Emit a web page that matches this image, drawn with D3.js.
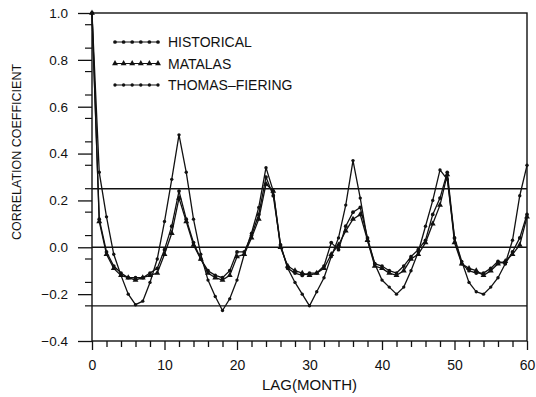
<!DOCTYPE html>
<html>
<head>
<meta charset="utf-8">
<script src="https://cdn.jsdelivr.net/npm/d3@7"></script>
<style>
  body { margin: 0; background: #fff; }
  text { font-family: "Liberation Sans", Arial, Helvetica, sans-serif; fill: #111; }
</style>
</head>
<body>
<svg id="chart" width="536" height="397"></svg>
<script>
// lag in months, 0..60
const lags = d3.range(0, 61);

const historical = [
  1.0, 0.12, -0.02, -0.08, -0.11, -0.13, -0.13, -0.13, -0.11, -0.09,
  -0.01, 0.09, 0.24, 0.12, 0.02, -0.05, -0.10, -0.12, -0.13, -0.10,
  -0.02, -0.02, 0.05, 0.14, 0.30, 0.22, 0.01, -0.09, -0.11, -0.12,
  -0.11, -0.11, -0.08, 0.02, -0.01, 0.09, 0.15, 0.17, 0.04, -0.07,
  -0.08, -0.10, -0.11, -0.08, -0.04, -0.01, 0.03, 0.14, 0.21, 0.32,
  0.04, -0.07, -0.10, -0.11, -0.11, -0.09, -0.06, -0.07, -0.02, 0.04,
  0.14
];

const matalas = [
  1.0, 0.11, -0.03, -0.09, -0.12, -0.13, -0.14, -0.13, -0.12, -0.11,
  -0.03, 0.06, 0.21, 0.11, 0.01, -0.05, -0.11, -0.13, -0.14, -0.12,
  -0.04, -0.03, 0.04, 0.12, 0.27, 0.24, 0.00, -0.08, -0.10, -0.11,
  -0.12, -0.11, -0.09, -0.03, 0.01, 0.07, 0.12, 0.14, 0.03, -0.08,
  -0.09, -0.11, -0.12, -0.10, -0.05, -0.03, 0.02, 0.10, 0.18, 0.31,
  0.02, -0.07, -0.09, -0.10, -0.12, -0.10, -0.07, -0.06, -0.03, 0.01,
  0.13
];

const thomasFiering = [
  1.0, 0.32, 0.13, -0.03, -0.12, -0.20, -0.245, -0.23, -0.15, -0.05,
  0.11, 0.29, 0.48, 0.32, 0.12, -0.03, -0.14, -0.21, -0.27, -0.22,
  -0.14, -0.03, 0.06, 0.17, 0.34, 0.24, 0.01, -0.09, -0.15, -0.20,
  -0.25, -0.19, -0.13, -0.04, 0.04, 0.18, 0.37, 0.21, 0.03, -0.07,
  -0.14, -0.17, -0.20, -0.17, -0.10, -0.02, 0.09, 0.20, 0.33, 0.29,
  0.04, -0.06, -0.15, -0.19, -0.20, -0.17, -0.13, -0.07, 0.03, 0.22,
  0.35
];

const seriesNames = ["HISTORICAL", "MATALAS", "THOMAS\u2013FIERING"];
const refLines = [0.25, 0, -0.25];
const yTicks = [1.0, 0.8, 0.6, 0.4, 0.2, 0.0, -0.2, -0.4];

const margin = { top: 13, right: 9, bottom: 56, left: 92 };
const W = 536, H = 397;
const width = W - margin.left - margin.right;
const height = H - margin.top - margin.bottom;

const svg = d3.select("#chart");
const g = svg.append("g").attr("transform", `translate(${margin.left},${margin.top})`);

const x = d3.scaleLinear().domain([0, 60]).range([0, width]);
const y = d3.scaleLinear().domain([-0.4, 1.0]).range([height, 0]);

// y axis: major ticks every 0.2, minor every 0.1
const yAxis = d3.axisLeft(y)
  .tickValues(yTicks)
  .tickSize(14)
  .tickSizeOuter(0)
  .tickPadding(10)
  .tickFormat(d => d3.format(".1f")(d).replace("-", "\u2212"));

const yg = g.append("g").call(yAxis);
yg.select(".domain").remove();
yg.selectAll("line").attr("stroke", "#111").attr("stroke-width", 1.3);
yg.selectAll("text").style("font-size", "13.5px").attr("fill", "#111");

g.append("g")
  .selectAll("line")
  .data(d3.range(-3, 10).map(i => i / 10 + 0.05).filter(v => v > -0.4 && v < 1.0))
  .join("line")
  .attr("x1", -7).attr("x2", 0)
  .attr("y1", d => y(d)).attr("y2", d => y(d))
  .attr("stroke", "#111").attr("stroke-width", 1.2);

// x axis: ticks every 2, labels every 10
const xAxis = d3.axisBottom(x)
  .tickValues(d3.range(0, 61, 2))
  .tickSize(6)
  .tickSizeOuter(0)
  .tickPadding(10)
  .tickFormat(d => (d % 10 === 0 ? d : ""));

const xg = g.append("g").attr("transform", `translate(0,${height})`).call(xAxis);
xg.select(".domain").remove();
xg.selectAll("line")
  .attr("stroke", "#111").attr("stroke-width", 1.3)
  .attr("y2", d => (d % 10 === 0 ? 9 : 6));
xg.selectAll("text").style("font-size", "14px").attr("fill", "#111").attr("dy", "0.9em");

// frame
g.append("rect")
  .attr("width", width).attr("height", height)
  .attr("fill", "none").attr("stroke", "#111").attr("stroke-width", 1.4);

// reference lines
g.append("g")
  .selectAll("line")
  .data(refLines)
  .join("line")
  .attr("x1", 0).attr("x2", width)
  .attr("y1", d => y(d)).attr("y2", d => y(d))
  .attr("stroke", "#111").attr("stroke-width", 1.4);

// series
const line = d3.line().x((d, i) => x(lags[i])).y(d => y(d));

const series = [
  { name: seriesNames[0], values: historical, symbol: d3.symbolCircle, size: 11 },
  { name: seriesNames[1], values: matalas, symbol: d3.symbolTriangle, size: 15 },
  { name: seriesNames[2], values: thomasFiering, symbol: d3.symbolCircle, size: 9 }
];

series.forEach(s => {
  g.append("path")
    .datum(s.values)
    .attr("fill", "none")
    .attr("stroke", "#111")
    .attr("stroke-width", 1.3)
    .attr("d", line);

  g.append("g")
    .selectAll("path")
    .data(s.values)
    .join("path")
    .attr("d", d3.symbol().type(s.symbol).size(s.size))
    .attr("transform", (d, i) => `translate(${x(lags[i])},${y(d)})`)
    .attr("fill", "#111");
});

// legend
const legend = g.append("g").attr("transform", "translate(23,29)");
series.forEach((s, i) => {
  const row = legend.append("g").attr("transform", `translate(0,${i * 21.5})`);
  row.append("line")
    .attr("x1", 0).attr("x2", 43)
    .attr("stroke", "#111").attr("stroke-width", 1.2);
  row.selectAll("path")
    .data(d3.range(6))
    .join("path")
    .attr("d", d3.symbol().type(s.symbol).size(s.size))
    .attr("transform", k => `translate(${k * 8.6},0)`)
    .attr("fill", "#111");
  row.append("text")
    .attr("x", 53).attr("y", 5)
    .style("font-size", "14px")
    .text(s.name);
});

// axis titles
svg.append("text")
  .attr("x", margin.left + x(30)).attr("y", 390)
  .attr("text-anchor", "middle")
  .style("font-size", "15px")
  .text("LAG(MONTH)");

svg.append("text")
  .attr("transform", "translate(21,152) rotate(-90)")
  .attr("text-anchor", "middle")
  .style("font-size", "12.5px")
  .text("CORRELATION COEFFICIENT");
</script>
</body>
</html>
